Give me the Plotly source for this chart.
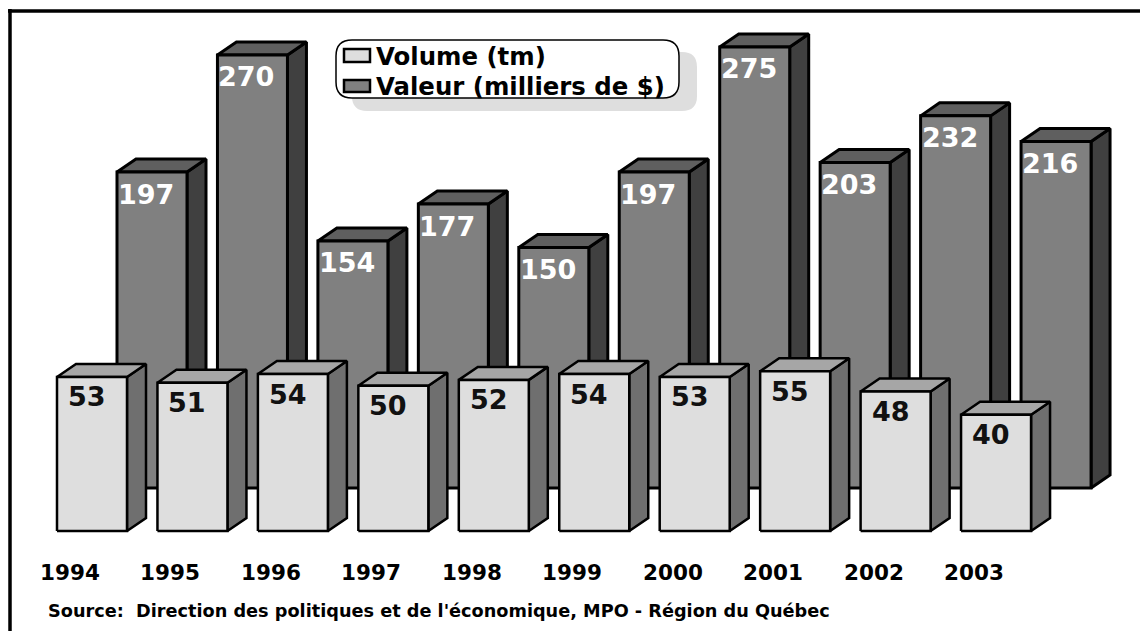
"""Volume et valeur par année, colonnes 3D dessinées à la main."""
import plotly.graph_objects as go

YEARS = ["1994", "1995", "1996", "1997", "1998", "1999", "2000", "2001", "2002", "2003"]
VOLUME = [53, 51, 54, 50, 52, 54, 53, 55, 48, 40]
VALEUR = [197, 270, 154, 177, 150, 197, 275, 203, 232, 216]
VOLUME_NAME = "Volume (tm)"
VALEUR_NAME = "Valeur (milliers de $)"
SOURCE = "Source:  Direction des politiques et de l'économique, MPO - Région du Québec"

W, H = 1140, 631
FONT = "DejaVu Sans"

# pixel scale of the two value axes and of the year axis
STEP = 100.45
VOL_PX, VOL_BASE = 2.906, 531
VAL_PX, VAL_BASE = 1.604, 488
FRONT_LEFT = 57
BACK_SHIFT = 60 / STEP
BAR_W = 70 / STEP
DEPTH_X = 19 / STEP
DEPTH_PX = 13

FRONT_COLORS = dict(front="#dedede", top="#a6a6a6", side="#6f6f6f")
BACK_COLORS = dict(front="#808080", top="#5f5f5f", side="#404040")


def px(x):
    return x / W


def py(y):
    return 1 - y / H


def rounded(x0, y0, x1, y1, r):
    """SVG path of a rounded box, in paper fractions."""
    return (
        f"M {px(x0 + r)} {py(y0)} L {px(x1 - r)} {py(y0)} "
        f"Q {px(x1)} {py(y0)} {px(x1)} {py(y0 + r)} L {px(x1)} {py(y1 - r)} "
        f"Q {px(x1)} {py(y1)} {px(x1 - r)} {py(y1)} L {px(x0 + r)} {py(y1)} "
        f"Q {px(x0)} {py(y1)} {px(x0)} {py(y1 - r)} L {px(x0)} {py(y0 + r)} "
        f"Q {px(x0)} {py(y0)} {px(x0 + r)} {py(y0)} Z"
    )


def add_bars(fig, values, shift, scale, colors, yaxis, lw):
    depth_y = DEPTH_PX / scale
    faces = {"side": ([], []), "top": ([], []), "front": ([], [])}
    for i, v in enumerate(values):
        x0 = i + shift
        x1 = x0 + BAR_W
        polys = {
            "front": ([x0, x1, x1, x0, x0], [0, 0, v, v, 0]),
            "top": ([x0, x1, x1 + DEPTH_X, x0 + DEPTH_X, x0], [v, v, v + depth_y, v + depth_y, v]),
            "side": ([x1, x1 + DEPTH_X, x1 + DEPTH_X, x1, x1], [0, depth_y, v + depth_y, v, 0]),
        }
        for name, (xs, ys) in polys.items():
            faces[name][0].extend(xs + [None])
            faces[name][1].extend(ys + [None])
    for name, (xs, ys) in faces.items():
        fig.add_trace(go.Scatter(
            x=xs, y=ys, yaxis=yaxis,
            mode="lines", fill="toself",
            fillcolor=colors[name],
            line=dict(color="black", width=lw),
            hoverinfo="skip", showlegend=False,
        ))


fig = go.Figure()
# valeur sits on the base axis, volume on the overlaying one so it draws in front
add_bars(fig, VALEUR, BACK_SHIFT, VAL_PX, BACK_COLORS, "y", 3)
add_bars(fig, VOLUME, 0, VOL_PX, FRONT_COLORS, "y2", 2.5)

annotations = []
for i, v in enumerate(VALEUR):
    annotations.append(dict(
        x=i + BACK_SHIFT, y=v, xref="x", yref="y", text=str(v),
        xanchor="left", yanchor="middle", xshift=-1, yshift=-22, showarrow=False,
        font=dict(family=FONT, size=27, color="white", weight="bold"),
    ))
for i, v in enumerate(VOLUME):
    annotations.append(dict(
        x=i, y=v, xref="x", yref="y2", text=str(v),
        xanchor="left", yanchor="middle", xshift=9, yshift=-20, showarrow=False,
        font=dict(family=FONT, size=27, color="#111111", weight="bold"),
    ))
for i, year in enumerate(YEARS):
    annotations.append(dict(
        x=i, y=py(572), xref="x", yref="paper", text=year,
        xanchor="center", yanchor="middle", xshift=13, showarrow=False,
        font=dict(family=FONT, size=21.5, color="black", weight="bold"),
    ))
annotations.append(dict(
    x=px(46), y=py(611), xref="paper", yref="paper", text=SOURCE,
    xanchor="left", yanchor="middle", showarrow=False,
    font=dict(family=FONT, size=17.7, color="black", weight="bold"),
))
for name, y in ((VOLUME_NAME, 57), (VALEUR_NAME, 87)):
    annotations.append(dict(
        x=px(374), y=py(y), xref="paper", yref="paper", text=name,
        xanchor="left", yanchor="middle", showarrow=False,
        font=dict(family=FONT, size=24.4, color="black", weight="bold"),
    ))

shapes = [
    # the frame only shows on the top and left edges
    dict(type="line", xref="paper", yref="paper", x0=px(8), x1=1, y0=py(11), y1=py(11),
         line=dict(color="black", width=3.5), layer="above"),
    dict(type="line", xref="paper", yref="paper", x0=px(10), x1=px(10), y0=py(9), y1=0,
         line=dict(color="black", width=3.5), layer="above"),
    # legend shadow, box and swatches
    dict(type="path", xref="paper", yref="paper", path=rounded(352, 52, 697, 111, 15),
         fillcolor="#dedede", line=dict(width=0)),
    dict(type="path", xref="paper", yref="paper", path=rounded(336, 40, 679, 98, 16),
         fillcolor="white", line=dict(color="black", width=1.5)),
    dict(type="rect", xref="paper", yref="paper", x0=px(344), x1=px(370), y0=py(49), y1=py(62),
         fillcolor=FRONT_COLORS["front"], line=dict(color="black", width=2.5)),
    dict(type="rect", xref="paper", yref="paper", x0=px(344), x1=px(370), y0=py(80), y1=py(92),
         fillcolor=BACK_COLORS["front"], line=dict(color="black", width=2.5)),
]

fig.update_layout(
    width=W, height=H,
    margin=dict(l=0, r=0, t=0, b=0),
    paper_bgcolor="white", plot_bgcolor="white",
    showlegend=False,
    xaxis=dict(range=[-FRONT_LEFT / STEP, (W - FRONT_LEFT) / STEP], visible=False),
    yaxis=dict(range=[(VAL_BASE - H) / VAL_PX, VAL_BASE / VAL_PX], visible=False),
    yaxis2=dict(range=[(VOL_BASE - H) / VOL_PX, VOL_BASE / VOL_PX], visible=False,
                overlaying="y", side="right"),
    annotations=annotations,
    shapes=shapes,
)

fig.write_html("out.html", config=dict(displayModeBar=False),
               post_script="document.body.style.margin='0';")
